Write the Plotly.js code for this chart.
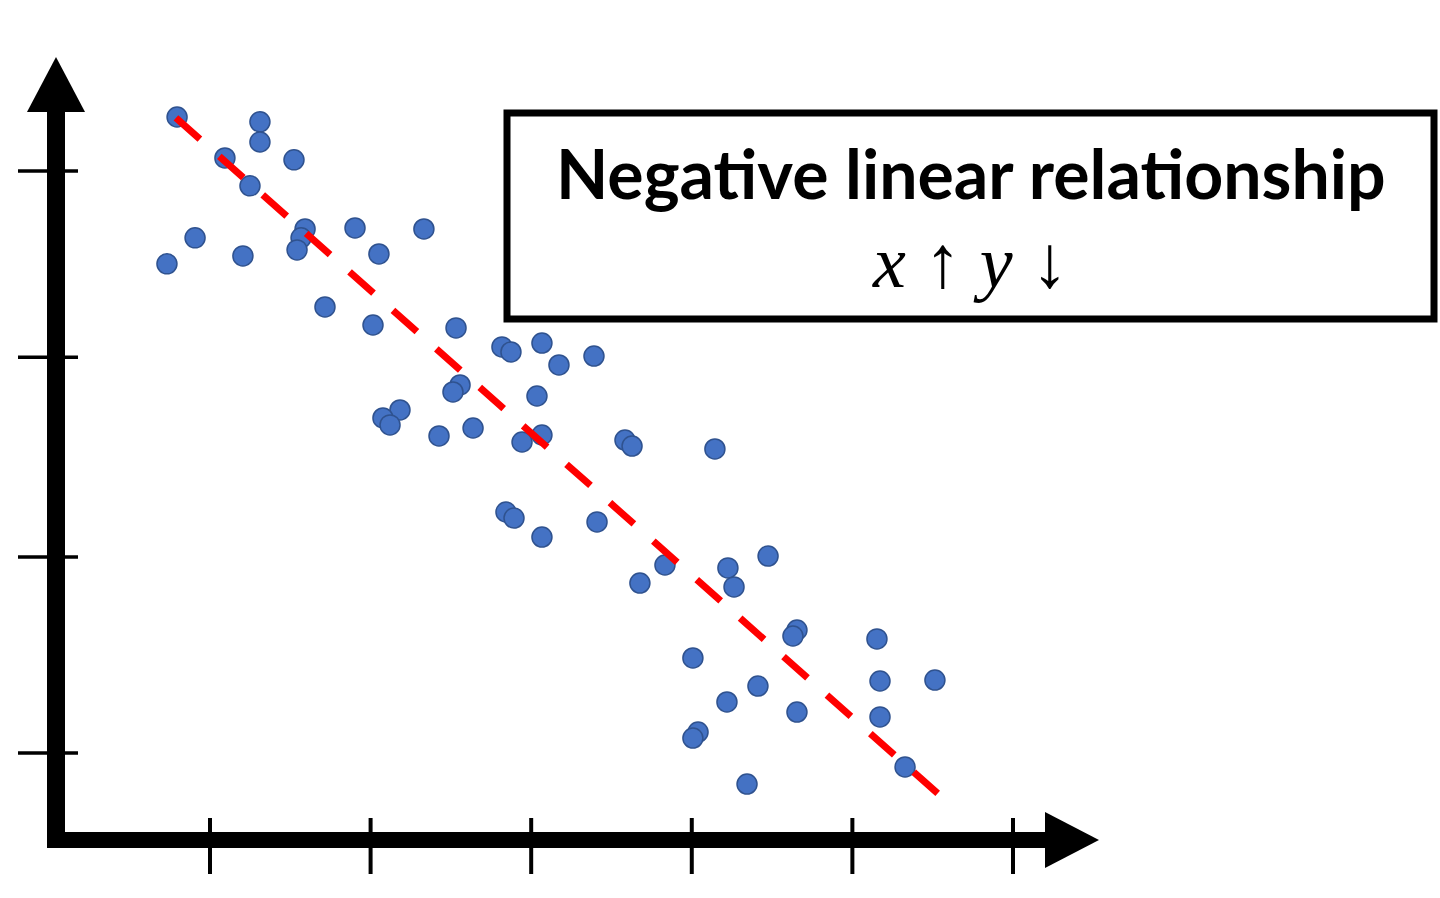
<!DOCTYPE html>
<html>
<head>
<meta charset="utf-8">
<script src="https://cdn.plot.ly/plotly-3.0.1.min.js"></script>
<style>html,body{margin:0;padding:0;background:#fff;} #chart{width:1440px;height:898px;}</style>
</head>
<body>
<div id="chart"></div>
<script>
// Scatter data (abstract units; x ticks at 1..6, y ticks at ~1..4)
const xValues = [0.795,1.311,1.311,1.093,1.523,1.249,0.907,0.732,1.205,1.592,1.567,1.542,1.903,2.052,2.332,1.716,2.015,2.532,2.818,2.874,3.067,3.173,3.391,2.557,2.513,3.036,2.183,2.077,2.121,2.426,2.638,2.943,3.067,3.584,3.628,2.843,2.893,3.067,3.410,4.144,3.833,3.677,4.225,4.263,4.475,4.655,4.630,5.153,4.007,4.412,5.172,5.514,4.219,4.655,5.172,4.039,4.007,5.328,4.344];
const yValues = [4.278,4.253,4.149,4.067,4.057,3.923,3.655,3.521,3.562,3.701,3.655,3.593,3.706,3.572,3.701,3.299,3.206,3.191,3.093,3.067,3.113,3.000,3.046,2.897,2.861,2.840,2.768,2.727,2.691,2.634,2.675,2.603,2.639,2.613,2.582,2.242,2.211,2.113,2.191,2.567,1.969,1.876,1.954,1.856,2.015,1.634,1.603,1.588,1.490,1.345,1.371,1.376,1.263,1.211,1.186,1.108,1.077,0.928,0.840];
// Trend line endpoints
const trendX = [0.788, 5.620];
const trendY = [4.273, 0.727];
// Tick positions (no labels)
const xTickVals = [1,2,3,4,5,6];
const yTickVals = [1.0,2.01,3.04,4.0];
const boxTitle = "Negative linear relationship";
const boxSubtitle = "<i>x</i>\u00a0\u2191\u00a0<i>y</i>\u00a0\u2193";

const W = 1440, H = 898;
const px = v => v / W;           // pixel -> paper x
const py = v => 1 - v / H;       // pixel -> paper y

const shapes = [];
// Axis bars
shapes.push({type:'rect', xref:'paper', yref:'paper', x0:px(47), x1:px(65), y0:py(848), y1:py(112), fillcolor:'#000', line:{width:0}});
shapes.push({type:'rect', xref:'paper', yref:'paper', x0:px(47), x1:px(1046), y0:py(848), y1:py(832), fillcolor:'#000', line:{width:0}});
// Arrowheads
shapes.push({type:'path', xref:'paper', yref:'paper', path:`M ${px(27)} ${py(112)} L ${px(85)} ${py(112)} L ${px(56)} ${py(57)} Z`, fillcolor:'#000', line:{width:0}});
shapes.push({type:'path', xref:'paper', yref:'paper', path:`M ${px(1045)} ${py(812)} L ${px(1045)} ${py(868)} L ${px(1099)} ${py(840)} Z`, fillcolor:'#000', line:{width:0}});
// Tick marks crossing the axes
xTickVals.forEach(v => shapes.push({type:'line', xref:'x', yref:'paper', x0:v, x1:v, y0:py(818), y1:py(874), line:{color:'#000', width:4}}));
yTickVals.forEach(v => shapes.push({type:'line', xref:'paper', yref:'y', x0:px(18), x1:px(78), y0:v, y1:v, line:{color:'#000', width:3.5}}));
// Text box frame
shapes.push({type:'rect', xref:'paper', yref:'paper', x0:px(507), x1:px(1434), y0:py(319), y1:py(113), line:{color:'#000', width:7}, fillcolor:'rgba(0,0,0,0)'});

const traces = [
  {x:xValues, y:yValues, type:'scatter', mode:'markers', marker:{color:'#4472C4', size:20, line:{color:'#2F528F', width:1.5}}, hoverinfo:'skip'},
  {x:trendX, y:trendY, type:'scatter', mode:'lines', line:{color:'#FF0000', width:7, dash:'32px,26px'}, hoverinfo:'skip'}
];

const layout = {
  width:W, height:H,
  margin:{l:0,r:0,t:0,b:0,pad:0},
  paper_bgcolor:'#fff', plot_bgcolor:'#fff',
  showlegend:false,
  xaxis:{range:[-0.3076, 8.659], showgrid:false, zeroline:false, showticklabels:false, showline:false, ticks:'', fixedrange:true},
  yaxis:{range:[0.2526, 4.881], showgrid:false, zeroline:false, showticklabels:false, showline:false, ticks:'', fixedrange:true},
  shapes:shapes,
  annotations:[
    {xref:'paper', yref:'paper', x:px(971), y:py(172), xanchor:'center', yanchor:'middle', showarrow:false, text:'<b>'+boxTitle+'</b>', font:{family:'Lato, sans-serif', size:68, color:'#000'}},
    {xref:'paper', yref:'paper', x:px(970), y:py(262), xanchor:'center', yanchor:'middle', showarrow:false, text:boxSubtitle, font:{family:'Liberation Serif, serif', size:74, color:'#000'}}
  ]
};

Plotly.newPlot('chart', traces, layout, {staticPlot:true, displayModeBar:false});
</script>
</body>
</html>
